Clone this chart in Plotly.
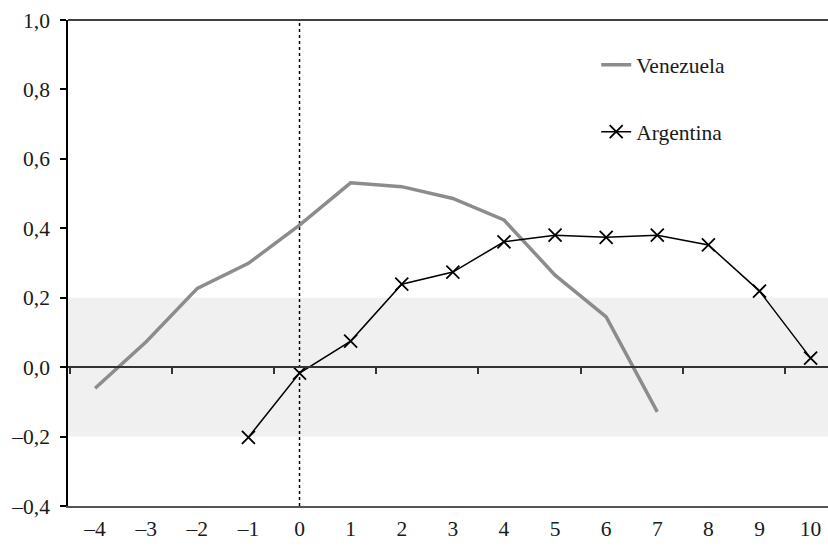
import plotly.graph_objects as go

categories = [-4, -3, -2, -1, 0, 1, 2, 3, 4, 5, 6, 7, 8, 9, 10]
tick_labels = ["–4", "–3", "–2", "–1", "0", "1", "2", "3", "4", "5", "6", "7", "8", "9", "10"]

ven_x = [-4, -3, -2, -1, 0, 1, 2, 3, 4, 5, 6, 7]
ven_y = [-0.061, 0.073, 0.227, 0.299, 0.409, 0.531, 0.520, 0.486, 0.424, 0.265, 0.145, -0.129]

arg_x = [-1, 0, 1, 2, 3, 4, 5, 6, 7, 8, 9, 10]
arg_y = [-0.202, -0.017, 0.075, 0.239, 0.274, 0.361, 0.380, 0.374, 0.380, 0.352, 0.219, 0.026]

y_ticks = [-0.4, -0.2, 0.0, 0.2, 0.4, 0.6, 0.8, 1.0]
y_labels = ["–0,4", "–0,2", "0,0", "0,2", "0,4", "0,6", "0,8", "1,0"]

band = (-0.2, 0.2)
x_range = [-4.53, 10.34]
y_range = [-0.4, 1.0]

FONT = "'Liberation Serif', 'Times New Roman', Times, serif"
FS = 21.5

fig = go.Figure()
fig.add_trace(go.Scatter(
    x=ven_x, y=ven_y, name="Venezuela", mode="lines",
    line=dict(color="#8c8c8c", width=3.5), legendgroup="v",
))
fig.add_trace(go.Scatter(
    x=arg_x, y=arg_y, name="Argentina", mode="lines+markers",
    line=dict(color="#000000", width=1.5),
    marker=dict(symbol="x-thin-open", size=13, line=dict(color="#000000", width=1.8)),
    legendgroup="a", xaxis="x2",
))

# shaded band
fig.add_shape(type="rect", xref="paper", yref="y", x0=0, x1=1, y0=band[0], y1=band[1],
              fillcolor="#eff0ef", line=dict(width=0), layer="below")
# dotted vertical line at 0
fig.add_shape(type="line", xref="x", yref="paper", x0=0, x1=0, y0=0, y1=1,
              line=dict(color="#000000", width=1.5, dash="dot"), layer="below")
# top border
fig.add_shape(type="line", xref="paper", yref="paper", x0=0, x1=1, y0=1, y1=1,
              line=dict(color="#000000", width=1.5))

half_ticks = [c - 0.5 for c in categories[::2]]

fig.update_layout(
    width=828, height=546,
    margin=dict(l=68, r=0, t=20, b=40),
    paper_bgcolor="white", plot_bgcolor="white",
    font=dict(family=FONT, size=FS, color="#1a1a1a"),
    showlegend=True,
    legend=dict(x=0.695, y=0.95, xanchor="left", yanchor="top",
                bgcolor="rgba(0,0,0,0)", tracegroupgap=36,
                traceorder="grouped", font=dict(family=FONT, size=FS)),
    xaxis=dict(range=x_range, tickvals=categories, ticktext=tick_labels,
               showline=True, linecolor="#555555", linewidth=1.5,
               ticks="", showgrid=False, zeroline=False,
               ticklabelstandoff=2, tickfont=dict(family=FONT, size=FS)),
    xaxis2=dict(range=x_range, overlaying="x", anchor="free",
                position=(0 - y_range[0]) / (y_range[1] - y_range[0]),
                side="bottom", showline=True, linecolor="#333333", linewidth=1.5,
                ticks="outside", ticklen=6, tickwidth=1.5, tickcolor="#333333",
                tickvals=half_ticks, showticklabels=False,
                showgrid=False, zeroline=False),
    yaxis=dict(range=y_range, tickvals=y_ticks, ticktext=y_labels,
               showline=True, linecolor="#000000", linewidth=1.5,
               ticks="outside", ticklen=6, tickwidth=1.5, tickcolor="#000000",
               showgrid=False, zeroline=False, ticklabelstandoff=6,
               tickfont=dict(family=FONT, size=FS)),
)

fig.write_html("out.html")
